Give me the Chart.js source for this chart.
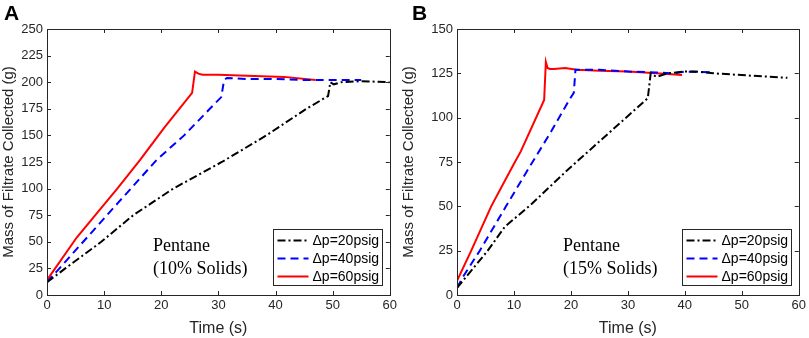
<!DOCTYPE html>
<html>
<head>
<meta charset="utf-8">
<script src="https://cdn.jsdelivr.net/npm/chart.js@4.4.1/dist/chart.umd.min.js"></script>
<style>
  body { margin: 0; background: #fff; }
  #wrap { position: relative; width: 809px; height: 338px; }
  canvas { position: absolute; top: 0; }
  .panel { position: absolute; top: 1px; font: bold 21px "Liberation Sans", Arial, sans-serif; color: #000; }
</style>
</head>
<body>
<div id="wrap">
  <canvas id="chartA" width="400" height="338" style="left:0"></canvas>
  <canvas id="chartB" width="409" height="338" style="left:400px"></canvas>
  <div class="panel" style="left:4px">A</div>
  <div class="panel" style="left:412px">B</div>
</div>
<script>
// panel A - 10% solids
const t20A = [0, 3.2, 9.5, 15.1, 22.1, 30.6, 38.4, 45.4, 49.2, 49.6, 50.2, 51.5, 55, 60];
const m20A = [12, 25, 50, 75, 100, 125, 150, 175, 187, 200, 198, 200, 201, 200];
const t40A = [0, 5.5, 12.5, 19.2, 24, 28.5, 30.5, 31, 31.5, 35, 40, 45, 50, 55];
const m40A = [12, 45, 87, 127, 150, 175, 186, 202, 204, 203, 203, 202, 202, 202];
const t60A = [0, 5.2, 12.3, 16.3, 20.5, 25.4, 25.9, 26.5, 27.2, 30, 35, 41.5, 47];
const m60A = [14, 54, 100, 127, 157, 190, 210, 208, 207, 207, 206, 205, 202];

// panel B - 15% solids
const t20B = [0, 5.4, 8.4, 13, 19.4, 30.2, 33.5, 34, 35, 37, 40, 42, 45, 50, 58];
const m20B = [4, 25, 38.5, 51, 70.5, 101.5, 111, 125, 123, 125, 126, 126, 125, 124, 122.5];
const t40B = [0, 1, 4, 8.6, 12.5, 16.5, 19.7, 20.5, 20.8, 25, 30, 35, 38, 40, 45];
const m40B = [4, 10, 25, 50, 71, 92, 110, 114, 127, 127, 126, 125.5, 125, 126, 125.5];
const t60B = [0, 2.5, 6, 10, 11.2, 15.3, 15.6, 15.9, 16.3, 17, 19, 21, 25, 30, 35, 39.5];
const m60B = [8, 25, 50, 74, 81, 110, 131.5, 128, 127.5, 127.5, 128, 127, 126.5, 126, 125, 124];

const seriesLabels = ['\u0394p=20psig', '\u0394p=40psig', '\u0394p=60psig'];
const xTitle = 'Time (s)';
const yTitle = 'Mass of Filtrate Collected (g)';

const SANS = '"Liberation Sans", Arial, sans-serif';
const SERIF = '"Liberation Serif", "Times New Roman", serif';
const AXIS = '#262626';

function pts(t, m) {
  return t.map((x, i) => ({ x: x, y: m[i] }));
}

// frame, inward ticks, legend box and the note text
const matlabLook = {
  id: 'matlabLook',
  afterDraw(chart, args, opts) {
    const ctx = chart.ctx;
    const a = chart.chartArea;
    const xs = chart.scales.x, ys = chart.scales.y;
    ctx.save();
    ctx.strokeStyle = AXIS;
    ctx.lineWidth = 1;
    ctx.strokeRect(Math.round(a.left) + 0.5, Math.round(a.top) + 0.5, Math.round(a.right - a.left), Math.round(a.bottom - a.top));
    ctx.beginPath();
    xs.ticks.forEach(tk => {
      const px = Math.round(xs.getPixelForValue(tk.value)) + 0.5;
      ctx.moveTo(px, a.bottom); ctx.lineTo(px, a.bottom - 4);
      ctx.moveTo(px, a.top); ctx.lineTo(px, a.top + 4);
    });
    ys.ticks.forEach(tk => {
      const py = Math.round(ys.getPixelForValue(tk.value)) + 0.5;
      ctx.moveTo(a.left, py); ctx.lineTo(a.left + 4, py);
      ctx.moveTo(a.right, py); ctx.lineTo(a.right - 4, py);
    });
    ctx.stroke();

    // legend
    const bw = 109, bh = 56;
    const bx = Math.round(a.right - 8 - bw) + 0.5, by = Math.round(a.bottom - 10 - bh) + 0.5;
    ctx.fillStyle = '#fff';
    ctx.fillRect(bx, by, bw, bh);
    ctx.strokeStyle = AXIS;
    ctx.strokeRect(bx, by, bw, bh);
    ctx.font = '14px ' + SANS;
    ctx.textBaseline = 'middle';
    chart.data.datasets.forEach((ds, i) => {
      const y = by + 11 + i * 18;
      ctx.strokeStyle = ds.borderColor;
      ctx.lineWidth = 2;
      ctx.setLineDash(ds.borderDash || []);
      ctx.beginPath();
      ctx.moveTo(bx + 4, y); ctx.lineTo(bx + 35, y);
      ctx.stroke();
      ctx.setLineDash([]);
      ctx.fillStyle = '#000';
      ctx.fillText(ds.label, bx + 39, y + 1);
    });

    // note
    ctx.fillStyle = '#000';
    ctx.font = '18px ' + SERIF;
    ctx.textBaseline = 'alphabetic';
    ctx.fillText('Pentane', a.left + 106, 251);
    ctx.fillText(opts.note, a.left + 106, 274);
    ctx.restore();
  }
};

function makeChart(id, d20, d40, d60, yMax, yWidth, padRight, note) {
  const ctx = document.getElementById(id).getContext('2d');
  return new Chart(ctx, {
    type: 'line',
    data: {
      datasets: [
        { label: seriesLabels[0], data: d20, borderColor: '#000000', borderDash: [8, 3, 2, 3] },
        { label: seriesLabels[1], data: d40, borderColor: '#0000ff', borderDash: [8, 5] },
        { label: seriesLabels[2], data: d60, borderColor: '#ff0000' }
      ]
    },
    options: {
      responsive: false,
      animation: false,
      elements: {
        line: { borderWidth: 2, tension: 0, fill: false },
        point: { radius: 0 }
      },
      layout: { padding: { left: 0, top: 29, right: padRight, bottom: 0 } },
      plugins: {
        legend: { display: false },
        tooltip: { enabled: false },
        matlabLook: { note: note }
      },
      scales: {
        x: {
          type: 'linear',
          min: 0, max: 60,
          ticks: { stepSize: 10, color: AXIS, font: { family: SANS, size: 13 }, padding: 3, maxRotation: 0 },
          grid: { display: false, drawTicks: false },
          border: { display: false },
          title: { display: true, text: xTitle, color: AXIS, font: { family: SANS, size: 16 }, padding: 0 },
          afterFit: s => { s.height = 43; }
        },
        y: {
          min: 0, max: yMax,
          ticks: { stepSize: 25, color: AXIS, font: { family: SANS, size: 13 }, padding: 4 },
          grid: { display: false, drawTicks: false },
          border: { display: false },
          title: { display: true, text: yTitle, color: AXIS, font: { family: SANS, size: 15 }, padding: 0 },
          afterFit: s => { s.width = yWidth; }
        }
      }
    },
    plugins: [matlabLook]
  });
}

makeChart('chartA', pts(t20A, m20A), pts(t40A, m40A), pts(t60A, m60A), 250, 47, 10, '(10% Solids)');
makeChart('chartB', pts(t20B, m20B), pts(t40B, m40B), pts(t60B, m60B), 150, 57, 9, '(15% Solids)');
</script>
</body>
</html>
